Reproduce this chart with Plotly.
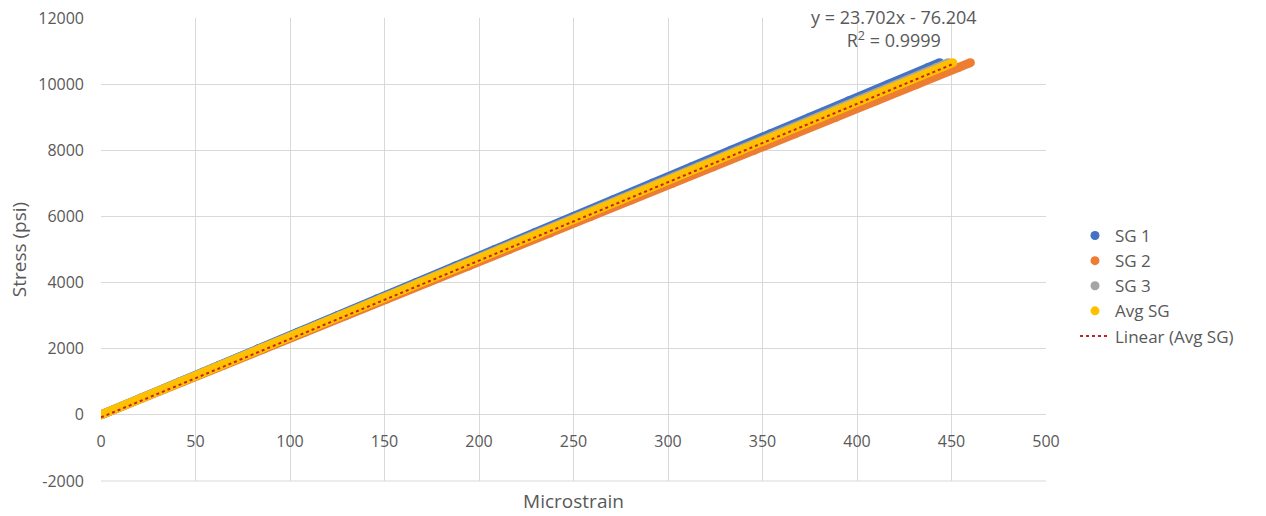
import plotly.graph_objects as go

# Applied stress levels (psi) shared by all gauges
stress = [0, 500, 1000, 1500, 2000, 2500, 3000, 3500, 4000, 4500, 5000, 5500,
          6000, 6500, 7000, 7500, 8000, 8500, 9000, 9500, 10000, 10500, 10650]

# Strain gauge readings (microstrain)
sg1 = [0, 20.8, 41.7, 62.5, 83.3, 104.2, 125.0, 145.8, 166.7, 187.5, 208.3, 229.2,
       250.0, 270.8, 291.7, 312.5, 333.3, 354.2, 375.0, 395.8, 416.7, 437.5, 443.8]
sg2 = [0, 21.6, 43.2, 64.8, 86.4, 108.0, 129.6, 151.2, 172.8, 194.4, 216.0, 237.6,
       259.2, 280.8, 302.4, 324.0, 345.6, 367.2, 388.8, 410.4, 432.0, 453.6, 460.0]
sg3 = [0, 21.1, 42.1, 63.2, 84.2, 105.3, 126.3, 147.4, 168.4, 189.5, 210.5, 231.6,
       252.6, 273.7, 294.7, 315.8, 336.8, 357.9, 378.9, 400.0, 421.1, 442.1, 448.4]
avg_sg = [0, 21.2, 42.3, 63.5, 84.6, 105.8, 127.0, 148.1, 169.3, 190.5, 211.6, 232.8,
          253.9, 275.1, 296.3, 317.4, 338.6, 359.8, 380.9, 402.1, 423.3, 444.4, 450.7]

# Axis ticks
x_ticks = [0, 50, 100, 150, 200, 250, 300, 350, 400, 450, 500]
y_ticks = [-2000, 0, 2000, 4000, 6000, 8000, 10000, 12000]
y_tick_text = ["-2000", "0", "2000", "4000", "6000", "8000", "10000", "12000"]

# Linear trendline fitted to Avg SG
slope = 23.702
intercept = -76.204
r_squared = 0.9999

series = [
    ("SG 1", sg1, "#4472C4"),
    ("SG 2", sg2, "#ED7D31"),
    ("SG 3", sg3, "#A5A5A5"),
    ("Avg SG", avg_sg, "#FFC000"),
]

FONT = "'Open Sans', sans-serif"
GREY_TXT = "#595959"
GRID = "#D9D9D9"

# plot area in pixels
L, R, T, B = 101, 1046, 18, 481
PW, PH = R - L, B - T

fig = go.Figure()
for name, strain, color in series:
    # dense band of readings
    fig.add_trace(go.Scatter(
        x=strain, y=stress, mode="lines", showlegend=False, hoverinfo="skip",
        line=dict(color=color, width=9),
    ))
    fig.add_trace(go.Scatter(
        x=strain, y=stress, mode="markers", name=name,
        marker=dict(color=color, size=9),
    ))

trend_x = [0, max(avg_sg)]
trend_y = [slope * v + intercept for v in trend_x]
fig.add_trace(go.Scatter(
    x=trend_x, y=trend_y, mode="lines", name="Linear (Avg SG)",
    line=dict(color="#C8201E", width=2, dash="dot"),
))

fig.add_annotation(
    x=(894 - L) / PW, y=(B - 28) / PH, xref="paper", yref="paper",
    xanchor="center", yanchor="middle", showarrow=False,
    text=f"y = {slope}x - {abs(intercept)}<br>R<sup>2</sup> = {r_squared}",
    font=dict(family=FONT, size=18, color=GREY_TXT),
)

# bottom edge of the plot area
fig.add_shape(type="line", xref="paper", yref="paper", x0=0, x1=1, y0=0, y1=0,
              line=dict(color=GRID, width=1), layer="below")

fig.update_layout(
    width=1266, height=516,
    margin=dict(l=L, r=1266 - R, t=T, b=516 - B),
    paper_bgcolor="white", plot_bgcolor="white",
    font=dict(family=FONT, size=16, color=GREY_TXT),
    legend=dict(
        x=(1075 - L) / PW, y=(B - 286) / PH, xanchor="left", yanchor="middle",
        font=dict(family=FONT, size=17, color=GREY_TXT),
        bgcolor="rgba(0,0,0,0)", itemwidth=30,
    ),
    xaxis=dict(
        range=[0, 500], tickvals=x_ticks,
        showgrid=True, gridcolor=GRID, gridwidth=1, zeroline=False,
        showline=False, ticks="", automargin=False,
        anchor="free", position=2000 / 14000,
        ticklabelstandoff=15,
        tickfont=dict(family=FONT, size=16, color=GREY_TXT),
        title=dict(text="Microstrain", standoff=43,
                   font=dict(family=FONT, size=19, color=GREY_TXT)),
    ),
    yaxis=dict(
        range=[-2000, 12000], tickvals=y_ticks, ticktext=y_tick_text,
        showgrid=True, gridcolor=GRID, gridwidth=1, zeroline=False,
        showline=False, ticks="", ticklabelstandoff=16, automargin=False,
        tickfont=dict(family=FONT, size=16, color=GREY_TXT),
        title=dict(text="Stress (psi)", standoff=6,
                   font=dict(family=FONT, size=19, color=GREY_TXT)),
    ),
)

fig.write_html("out.html")
